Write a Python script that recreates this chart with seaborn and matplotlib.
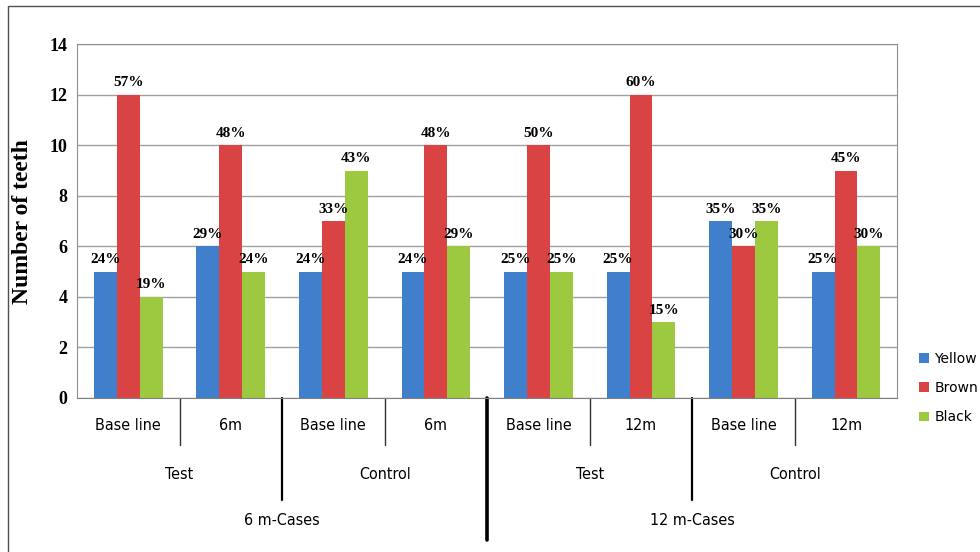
import pandas as pd
import matplotlib.pyplot as plt
import seaborn as sns
from matplotlib.patches import Rectangle
from matplotlib.transforms import blended_transform_factory

# Werte aus dem Diagramm
groups = ["g1", "g2", "g3", "g4", "g5", "g6", "g7", "g8"]
period_labels = ["Base line", "6m", "Base line", "6m", "Base line", "12m", "Base line", "12m"]
arm_labels = ["Test", "Control", "Test", "Control"]
case_labels = ["6 m-Cases", "12 m-Cases"]
colours = ["Yellow", "Brown", "Black"]

yellow = [5, 6, 5, 5, 5, 5, 7, 5]
brown = [12, 10, 7, 10, 10, 12, 6, 9]
black = [4, 5, 9, 6, 5, 3, 7, 6]

yellow_pct = ["24%", "29%", "24%", "24%", "25%", "25%", "35%", "25%"]
brown_pct = ["57%", "48%", "33%", "48%", "50%", "60%", "30%", "45%"]
black_pct = ["19%", "24%", "43%", "29%", "25%", "15%", "35%", "30%"]

df = pd.DataFrame({
    "group": groups * 3,
    "colour": [colours[0]] * 8 + [colours[1]] * 8 + [colours[2]] * 8,
    "teeth": yellow + brown + black,
})

sns.set_style("white")
plt.rcParams["text.color"] = "black"
plt.rcParams["ytick.color"] = "black"
plt.rcParams["axes.labelcolor"] = "black"
fig = plt.figure(figsize=(9.8, 5.52), dpi=100)
ax = fig.add_axes([0.0786, 0.279, 0.837, 0.641])

palette = {"Yellow": "#3f7fcc", "Brown": "#d94343", "Black": "#9cc93f"}
sns.barplot(data=df, x="group", y="teeth", hue="colour", order=groups,
            hue_order=colours, palette=palette, width=0.67, saturation=1,
            edgecolor="none", ax=ax)

for cont, labs in zip(ax.containers, [yellow_pct, brown_pct, black_pct]):
    ax.bar_label(cont, labels=labs, padding=4, fontsize=11, fontweight="bold",
                 family="Liberation Serif", color="black")

ax.set_ylim(0, 14)
ax.set_xlim(-0.5, 7.5)
ax.set_yticks(range(0, 15, 2))
ax.yaxis.grid(True, color="#a0a0a0", linewidth=1)
ax.set_axisbelow(True)
for lab in ax.get_yticklabels():
    lab.set_fontfamily("Liberation Serif")
    lab.set_fontweight("bold")
    lab.set_fontsize(13)
for sp in ax.spines.values():
    sp.set_color("#909090")
ax.spines["bottom"].set_color("#808080")
ax.set_xticks([])
ax.set_xlabel("")
ax.set_ylabel("Number of teeth", fontsize=17, fontweight="bold",
              family="Liberation Serif", labelpad=12)

# mehrstufige x-Achse
tr = blended_transform_factory(ax.transData, ax.transAxes)
lab_font = dict(family="DejaVu Sans", fontstretch="condensed", fontsize=11.5,
                ha="center", va="center", color="black")
for i, t in enumerate(period_labels):
    ax.text(i, -0.079, t, transform=tr, **lab_font)
for j, t in enumerate(arm_labels):
    ax.text(2 * j + 0.5, -0.215, t, transform=tr, **lab_font)
for k, t in enumerate(case_labels):
    ax.text(4 * k + 1.5, -0.347, t, transform=tr, **lab_font)

for x in [0.5, 2.5, 4.5, 6.5]:
    ax.plot([x, x], [0, -0.133], transform=tr, color="#303030", lw=1, clip_on=False)
for x in [1.5, 5.5]:
    ax.plot([x, x], [0, -0.288], transform=tr, color="black", lw=1.6, clip_on=False)
ax.plot([3.5, 3.5], [0, -0.40], transform=tr, color="black", lw=2.6, clip_on=False)

handles, labels = ax.get_legend_handles_labels()
ax.get_legend().remove()
fig.legend(handles, labels, loc="center left", bbox_to_anchor=(0.925, 0.297),
           frameon=False, handlelength=0.7, handleheight=0.7, handletextpad=0.4,
           labelspacing=1.1, prop={"family": "DejaVu Sans", "size": 10})

fig.patches.append(Rectangle((8 / 980, -0.1), 1.2, 1.1 - 6 / 552, transform=fig.transFigure,
                             fill=False, edgecolor="#505050", lw=1))

fig.savefig("out.png", dpi=100)
